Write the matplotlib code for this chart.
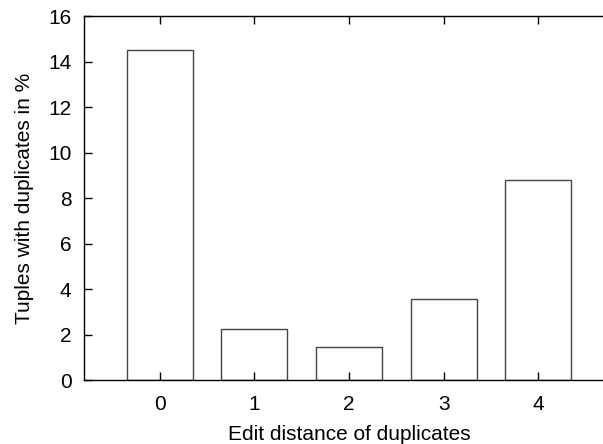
import numpy as np
import matplotlib.pyplot as plt

plt.rcParams['font.family'] = ['Liberation Sans', 'DejaVu Sans']

# share of tuples that have duplicates, per edit distance
distance = [0, 1, 2, 3, 4]
percent = [14.5, 2.25, 1.45, 3.57, 8.78]

fig = plt.figure(figsize=(6.03, 4.44), dpi=100)
ax = fig.add_axes([84/603, 64/444, 530/603, 364/444])

ax.bar(distance, percent, width=0.7, facecolor='white', edgecolor='#444444', linewidth=1.0)

ax.set_xlim(-0.8, 4.8)
ax.set_ylim(0, 16)
ax.set_xticks(distance)
ax.set_yticks(np.arange(0, 17, 2))
ax.tick_params(direction='in', length=6, width=1, top=True, right=False, labelsize=15)
ax.tick_params(axis='y', pad=9)
ax.tick_params(axis='x', pad=11)
for s in ax.spines.values():
    s.set_linewidth(1.0)

ax.set_xlabel('Edit distance of duplicates', fontsize=15, labelpad=8)
ax.set_ylabel('Tuples with duplicates in %', fontsize=15, labelpad=10)

fig.savefig('out.png', dpi=100)
